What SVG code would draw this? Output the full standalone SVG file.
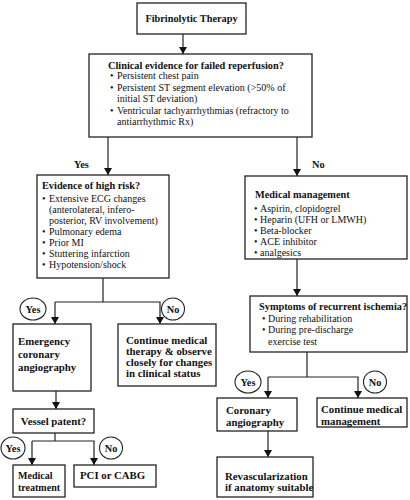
<svg xmlns="http://www.w3.org/2000/svg" width="410" height="500" viewBox="0 0 410 500">
<style>
.box{fill:#fff;stroke:#222;stroke-width:1.3}
.c{fill:none;stroke:#222;stroke-width:1.2}
.t{font-family:"Liberation Serif","Times New Roman",serif;font-size:10px;fill:#111}
.b{font-weight:bold;font-size:10.3px}
.m{font-size:10.8px}
.s{font-size:10px}
.circ{fill:#fff;stroke:#222;stroke-width:1.1}
</style>
<defs>
<marker id="ah" markerWidth="7" markerHeight="8" refX="7" refY="4" orient="auto" markerUnits="userSpaceOnUse">
<path d="M0,0 L7,4 L0,8 z" fill="#111"/>
</marker>
</defs>
<rect width="410" height="500" fill="#fff"/>
<g id="connectors">
<line class="c" x1="183" y1="34" x2="183" y2="54" marker-end="url(#ah)"/>
<line class="c" x1="108" y1="137" x2="108" y2="175" marker-end="url(#ah)"/>
<line class="c" x1="297" y1="137" x2="297" y2="176" marker-end="url(#ah)"/>
<polyline class="c" points="103,278 103,302"/>
<polyline class="c" points="55,302 160,302 160,324" marker-end="url(#ah)"/>
<line class="c" x1="55" y1="302" x2="55" y2="324" marker-end="url(#ah)"/>
<line class="c" x1="56" y1="391" x2="56" y2="409" marker-end="url(#ah)"/>
<polyline class="c" points="55,433 55,441"/>
<polyline class="c" points="32,441 94,441 94,465" marker-end="url(#ah)"/>
<line class="c" x1="32" y1="441" x2="32" y2="465" marker-end="url(#ah)"/>
<line class="c" x1="297" y1="259" x2="297" y2="296" marker-end="url(#ah)"/>
<polyline class="c" points="307,352 307,377"/>
<polyline class="c" points="268,377 358,377 358,398" marker-end="url(#ah)"/>
<line class="c" x1="268" y1="377" x2="268" y2="398" marker-end="url(#ah)"/>
<line class="c" x1="268" y1="431" x2="268" y2="457" marker-end="url(#ah)"/>
<text class="t b" x="74" y="168">Yes</text>
<text class="t b" x="312" y="168">No</text>
<ellipse class="circ" cx="33" cy="309" rx="13" ry="11"/>
<text class="t b" x="33" y="312.5" text-anchor="middle">Yes</text>
<ellipse class="circ" cx="173" cy="309" rx="11.5" ry="11"/>
<text class="t b" x="173" y="312.5" text-anchor="middle">No</text>
<ellipse class="circ" cx="13" cy="448" rx="12" ry="11"/>
<text class="t b" x="13" y="451.5" text-anchor="middle">Yes</text>
<ellipse class="circ" cx="111" cy="448" rx="11.5" ry="11"/>
<text class="t b" x="111" y="451.5" text-anchor="middle">No</text>
<ellipse class="circ" cx="248" cy="382" rx="13" ry="11"/>
<text class="t b" x="248" y="385.5" text-anchor="middle">Yes</text>
<ellipse class="circ" cx="375" cy="382" rx="11.5" ry="11"/>
<text class="t b" x="375" y="385.5" text-anchor="middle">No</text>
</g>
<g id="fibrinolytic">
<rect class="box" x="137" y="3" width="109" height="31"/>
<text class="t b" x="191.5" y="22" text-anchor="middle">Fibrinolytic Therapy</text>
</g>
<g id="failed-reperfusion">
<rect class="box" x="89" y="54" width="223" height="83"/>
<text class="t b" x="108" y="68.5">Clinical evidence for failed reperfusion?</text>
<text class="t" x="110" y="79">•</text><text class="t" x="117" y="79">Persistent chest pain</text>
<text class="t" x="110" y="91">•</text><text class="t" x="117" y="91">Persistent ST segment elevation (&gt;50% of</text>
<text class="t" x="117" y="102">initial ST deviation)</text>
<text class="t" x="110" y="113.5">•</text><text class="t" x="117" y="113.5">Ventricular tachyarrhythmias (refractory to</text>
<text class="t" x="117" y="125">antiarrhythmic Rx)</text>
</g>
<g id="high-risk">
<rect class="box" x="37" y="175" width="132" height="103"/>
<text class="t b" x="42" y="189">Evidence of high risk?</text>
<text class="t" x="42" y="201.5">•</text><text class="t" x="49" y="201.5">Extensive ECG changes</text>
<text class="t" x="49" y="213">(anterolateral, infero-</text>
<text class="t" x="49" y="224">posterior, RV involvement)</text>
<text class="t" x="42" y="235">•</text><text class="t" x="49" y="235">Pulmonary edema</text>
<text class="t" x="42" y="246">•</text><text class="t" x="49" y="246">Prior MI</text>
<text class="t" x="42" y="257">•</text><text class="t" x="49" y="257">Stuttering infarction</text>
<text class="t" x="42" y="268">•</text><text class="t" x="49" y="268">Hypotension/shock</text>
</g>
<g id="emergency">
<rect class="box" x="13" y="324" width="78" height="67"/>
<text class="t b m" x="18" y="345">Emergency</text>
<text class="t b m" x="18" y="358">coronary</text>
<text class="t b m" x="18" y="371">angiography</text>
</g>
<g id="continue-therapy">
<rect class="box" x="118" y="324" width="98" height="62"/>
<text class="t b m" x="126" y="344">Continue medical</text>
<text class="t b m" x="126" y="355">therapy &amp; observe</text>
<text class="t b m" x="126" y="366">closely for changes</text>
<text class="t b m" x="126" y="377">in clinical status</text>
</g>
<g id="vessel">
<rect class="box" x="13" y="409" width="81" height="24"/>
<text class="t b m" x="53.5" y="425" text-anchor="middle">Vessel patent?</text>
</g>
<g id="medical-treatment">
<rect class="box" x="13" y="465" width="52" height="32"/>
<text class="t b s" x="18" y="479">Medical</text>
<text class="t b s" x="18" y="491">treatment</text>
</g>
<g id="pci">
<rect class="box" x="74" y="465" width="82" height="22"/>
<text class="t b m" x="80" y="479">PCI or CABG</text>
</g>
<g id="medical-management">
<rect class="box" x="245" y="176" width="162" height="83"/>
<text class="t b" x="255" y="198">Medical management</text>
<text class="t" x="254" y="212">•</text><text class="t" x="260" y="212">Aspirin, clopidogrel</text>
<text class="t" x="254" y="223">•</text><text class="t" x="260" y="223">Heparin (UFH or LMWH)</text>
<text class="t" x="254" y="234">•</text><text class="t" x="260" y="234">Beta-blocker</text>
<text class="t" x="254" y="245">•</text><text class="t" x="260" y="245">ACE inhibitor</text>
<text class="t" x="254" y="256">•</text><text class="t" x="260" y="256">analgesics</text>
</g>
<g id="recurrent-ischemia">
<rect class="box" x="250" y="296" width="157" height="56"/>
<text class="t b" x="259" y="310">Symptoms of recurrent ischemia?</text>
<text class="t" x="262" y="321.5">•</text><text class="t" x="268" y="321.5">During rehabilitation</text>
<text class="t" x="262" y="333">•</text><text class="t" x="268" y="333">During pre-discharge</text>
<text class="t" x="268" y="345">exercise test</text>
</g>
<g id="coronary-angiography">
<rect class="box" x="217" y="398" width="80" height="33"/>
<text class="t b m" x="226" y="414">Coronary</text>
<text class="t b m" x="226" y="426">angiography</text>
</g>
<g id="continue-management">
<rect class="box" x="317" y="398" width="90" height="29"/>
<text class="t b m" x="321" y="413">Continue medical</text>
<text class="t b m" x="321" y="425">management</text>
</g>
<g id="revascularization">
<rect class="box" x="217" y="457" width="96" height="40"/>
<text class="t b m" x="225" y="479.5">Revascularization</text>
<text class="t b m" x="225" y="491">if anatomy suitable</text>
</g>
</svg>
